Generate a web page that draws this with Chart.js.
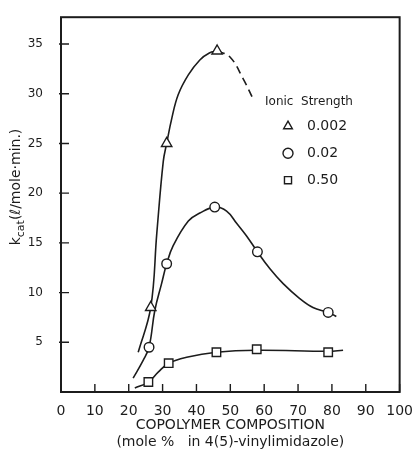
<!DOCTYPE html>
<html>
<head>
<meta charset="utf-8">
<script src="https://cdn.jsdelivr.net/npm/chart.js@4.4.0/dist/chart.umd.min.js"></script>
<style>
  html, body { margin: 0; background: #fff; }
  #wrap { width: 416px; height: 451px; }
</style>
</head>
<body>
<div id="wrap"><canvas id="kcat-chart"></canvas></div>
<script>
// ionic strengths (legend)
var strengths = ['0.002', '0.02', '0.50'];
var xTicks = [0, 10, 20, 30, 40, 50, 60, 70, 80, 90, 100];
var yTicks = [5, 10, 15, 20, 25, 30, 35];

// measured points
var lowX = [26.5, 31.2, 46.1];
var lowY = [8.5, 25.0, 34.3];
var midX = [26.0, 31.2, 45.4, 58.0, 78.9];
var midY = [4.5, 12.9, 18.6, 14.1, 8.0];
var highX = [25.8, 31.8, 45.9, 57.8, 78.9];
var highY = [1.0, 2.9, 4.0, 4.3, 4.0];

// hand drawn curves
var lowCurveX = [22.8, 26.5, 28.3, 30.2, 31.2, 32.7, 34.6, 37.6, 41.0, 43.8, 46.1];
var lowCurveY = [4.0, 8.5, 16.0, 23.2, 25.0, 27.5, 29.9, 31.9, 33.4, 34.1, 34.3];
var lowDashX = [46.1, 49.9, 53.8, 56.7];
var lowDashY = [34.3, 33.7, 31.5, 29.5];
var midCurveX = [21.3, 24.3, 26.0, 27.7, 29.7, 31.2, 33.1, 37.6, 41.0, 45.4, 48.9, 51.8, 54.8, 58.0, 61.7, 65.6, 70.5, 74.4, 78.9, 81.3];
var midCurveY = [1.4, 3.2, 4.5, 8.2, 10.9, 12.9, 14.7, 17.2, 18.0, 18.6, 18.2, 17.0, 15.7, 14.1, 12.4, 10.9, 9.4, 8.5, 8.0, 7.6];
var highCurveX = [21.8, 25.8, 28.7, 31.8, 37.1, 45.9, 57.8, 78.9, 83.3];
var highCurveY = [0.4, 1.0, 2.0, 2.9, 3.5, 4.0, 4.2, 4.1, 4.2];

var ink = '#1c1c1c';
var font = 'DejaVu Sans';

function pts(xs, ys) {
  return xs.map(function (x, i) { return { x: x, y: ys[i] }; });
}

function curve(xs, ys, dash) {
  return {
    type: 'line',
    data: pts(xs, ys),
    borderColor: ink,
    borderWidth: 1.6,
    borderDash: dash || [],
    pointRadius: 0,
    tension: 0.4,
    fill: false,
    order: 2
  };
}

function marks(xs, ys, style, r) {
  return {
    type: 'scatter',
    data: pts(xs, ys),
    pointStyle: style,
    pointRadius: r,
    pointBorderWidth: 1.4,
    pointBorderColor: ink,
    pointBackgroundColor: '#fff',
    order: 1
  };
}

function drawMark(ctx, style, x, y, r) {
  ctx.beginPath();
  if (style === 'triangle') {
    ctx.moveTo(x, y - r);
    ctx.lineTo(x + r * 0.87, y + r * 0.5);
    ctx.lineTo(x - r * 0.87, y + r * 0.5);
    ctx.closePath();
  } else if (style === 'circle') {
    ctx.arc(x, y, r, 0, Math.PI * 2);
  } else {
    var s = r * 0.707;
    ctx.rect(x - s, y - s, 2 * s, 2 * s);
  }
  ctx.fillStyle = '#fff';
  ctx.fill();
  ctx.stroke();
}

var decor = {
  id: 'decor',
  afterDraw: function (chart) {
    var ctx = chart.ctx, a = chart.chartArea;
    var sx = chart.scales.x, sy = chart.scales.y;
    ctx.save();
    ctx.strokeStyle = ink;
    ctx.lineWidth = 2;
    ctx.strokeRect(a.left, a.top, a.right - a.left, a.bottom - a.top);
    // inward ticks
    ctx.lineWidth = 1.4;
    ctx.beginPath();
    yTicks.forEach(function (v) {
      var py = sy.getPixelForValue(v);
      ctx.moveTo(a.left - 2, py);
      ctx.lineTo(a.left + 8, py);
    });
    xTicks.forEach(function (v) {
      var px = sx.getPixelForValue(v);
      ctx.moveTo(px, a.bottom);
      ctx.lineTo(px, a.bottom - 8);
    });
    ctx.stroke();

    // legend
    var lx = a.left + 204, ly = a.top + 85;
    ctx.fillStyle = ink;
    ctx.textBaseline = 'middle';
    ctx.textAlign = 'left';
    ctx.font = '12px "' + font + '"';
    ctx.fillText('Ionic  Strength', lx, ly);
    var styles = ['triangle', 'circle', 'rect'];
    ctx.font = '14px "' + font + '"';
    strengths.forEach(function (s, i) {
      var y = ly + 24 + i * 27;
      ctx.lineWidth = 1.4;
      drawMark(ctx, styles[i], lx + 23, y, 5);
      ctx.fillStyle = ink;
      ctx.fillText(s, lx + 42, y);
    });

    // y axis title with subscript
    ctx.translate(20, 187);
    ctx.rotate(-Math.PI / 2);
    ctx.textBaseline = 'alphabetic';
    var f1 = '14px "' + font + '"', f2 = '11px "' + font + '"';
    ctx.font = f1; var w1 = ctx.measureText('k').width;
    ctx.font = f2; var w2 = ctx.measureText('cat').width;
    ctx.font = f1; var w3 = ctx.measureText('(ℓ/mole·min.)').width;
    var start = -(w1 + w2 + w3) / 2;
    ctx.font = f1; ctx.fillText('k', start, 0);
    ctx.font = f2; ctx.fillText('cat', start + w1, 4);
    ctx.font = f1; ctx.fillText('(ℓ/mole·min.)', start + w1 + w2, 0);
    ctx.restore();
  }
};

new Chart(document.getElementById('kcat-chart'), {
  data: {
    datasets: [
      curve(lowCurveX, lowCurveY),
      curve(lowDashX, lowDashY, [8, 5]),
      curve(midCurveX, midCurveY),
      curve(highCurveX, highCurveY),
      marks(lowX, lowY, 'triangle', 6),
      marks(midX, midY, 'circle', 4.8),
      marks(highX, highY, 'rect', 6)
    ]
  },
  options: {
    responsive: true,
    maintainAspectRatio: false,
    animation: false,
    layout: { padding: { left: 0, right: 16, top: 15, bottom: 0 } },
    plugins: { legend: { display: false }, tooltip: { enabled: false } },
    scales: {
      x: {
        type: 'linear',
        min: 0,
        max: 100,
        afterBuildTicks: function (s) { s.ticks = xTicks.map(function (v) { return { value: v }; }); },
        afterFit: function (s) { s.height = 59; },
        grid: { display: false },
        border: { display: false },
        ticks: { color: ink, padding: 3, maxRotation: 0, font: { family: font, size: 14 } },
        title: {
          display: true,
          text: ['COPOLYMER COMPOSITION', '(mole %   in 4(5)-vinylimidazole)'],
          color: ink,
          padding: { top: 0, bottom: 0 },
          font: { family: font, size: 14, lineHeight: 1.2 }
        }
      },
      y: {
        type: 'linear',
        min: 0,
        max: 37.7,
        afterBuildTicks: function (s) { s.ticks = yTicks.map(function (v) { return { value: v }; }); },
        afterFit: function (s) { s.width = 61; },
        grid: { display: false },
        border: { display: false },
        ticks: { color: ink, padding: 10, font: { family: font, size: 12 } }
      }
    }
  },
  plugins: [decor]
});
</script>
</body>
</html>
